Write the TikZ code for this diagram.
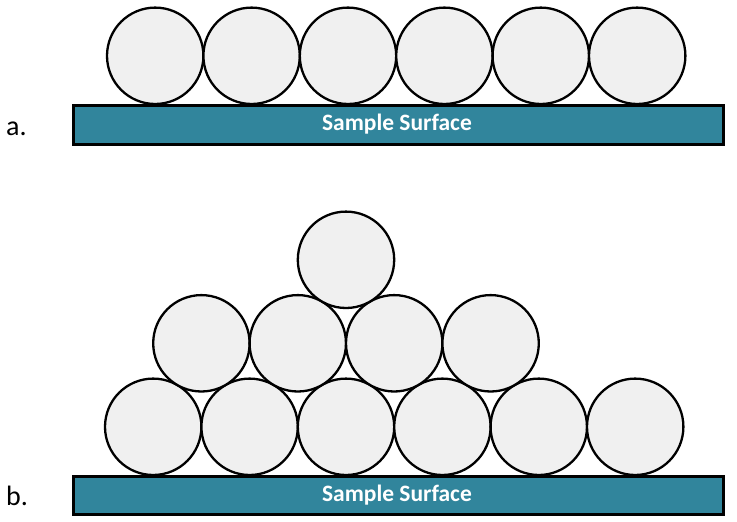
\documentclass[tikz,border=0pt]{standalone}
\usepackage{fontspec}
\setmainfont{Carlito}
\definecolor{surf}{HTML}{31859C}
\definecolor{ball}{HTML}{F0F0F0}
\begin{document}
\begin{tikzpicture}[x=1pt,y=-1pt,
  ballst/.style={circle,draw=black,line width=2.3pt,fill=ball,minimum size=96.4pt,inner sep=0pt},
  surfst/.style={draw=black,line width=3pt,fill=surf},
  surftext/.style={anchor=base,text=white,font=\fontsize{23.5}{28}\selectfont\bfseries,inner sep=0pt},
  labelst/.style={anchor=base west,font=\fontsize{28}{32}\selectfont,inner sep=0pt}]
\useasboundingbox (0,0) rectangle (737,522);
% panel a
\node[surfst,minimum width=650pt,minimum height=39pt,inner sep=0pt,anchor=north west] (sa) at (72,104) {};
\node[surftext] (ta) at (397,130) {Sample Surface};
\foreach \i in {0,...,5}{
  \node[ballst] (a\i) at (155.2+96.4*\i,55.8) {};
}
\node[labelst] (la) at (6,135) {a.};
% panel b
\node[surfst,minimum width=650pt,minimum height=38pt,inner sep=0pt,anchor=north west] (sb) at (72,475) {};
\node[surftext] (tb) at (397,501) {Sample Surface};
\foreach \i in {0,...,5}{
  \node[ballst] (b\i) at (153.2+96.4*\i,426.8) {};
}
\foreach \i in {0,...,3}{
  \node[ballst] (m\i) at (201.4+96.4*\i,343.3) {};
}
\node[ballst] (t0) at (346.0,259.8) {};
\node[labelst] (lb) at (6,505) {b.};
\end{tikzpicture}
\end{document}
